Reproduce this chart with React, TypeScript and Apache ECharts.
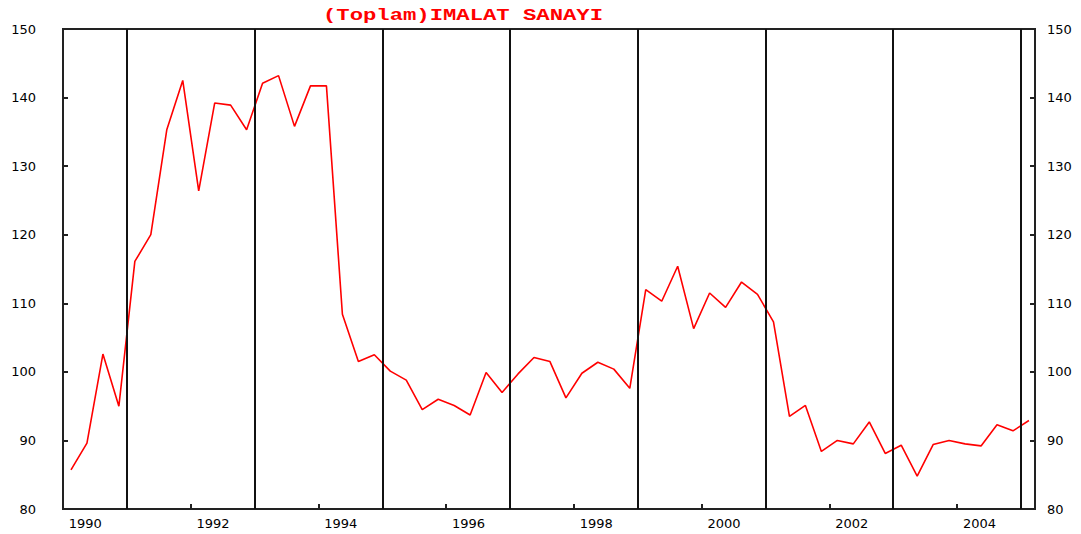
import React, { useEffect, useRef } from "react";
import * as echarts from "echarts";

const chartTitle = "(Toplam)IMALAT SANAYI";

// Quarterly index, 1990 Q1 .. 2005 Q1
const firstYear = 1990;
const quarterValues: number[] = [
  85.7, 89.6, 102.6, 95.0,
  116.1, 120.0, 135.3, 142.5,
  126.4, 139.2, 138.9, 135.3,
  142.1, 143.2, 135.8, 141.7,
  141.7, 108.4, 101.5, 102.5,
  100.1, 98.8, 94.5, 96.0,
  95.1, 93.7, 99.9, 97.0,
  99.7, 102.1, 101.5, 96.2,
  99.8, 101.4, 100.4, 97.6,
  112.0, 110.3, 115.4, 106.3,
  111.5, 109.4, 113.1, 111.3,
  107.3, 93.5, 95.1, 88.4,
  90.0, 89.5, 92.7, 88.1,
  89.3, 84.8, 89.4, 90.0,
  89.5, 89.2, 92.3, 91.4,
  92.9,
];

const tickYears: number[] = [1990, 1992, 1994, 1996, 1998, 2000, 2002, 2004];
const tickLabels: string[] = ["1990", "1992", "1994", "1996", "1998", "2000", "2002", "2004"];
const breakYears: number[] = [1991, 1993, 1995, 1997, 1999, 2001, 2003, 2005];

const yMin = 80;
const yMax = 150;
const yStep = 10;
const xMax = 2005.22;
const labelShift = 0.35;

export default function App() {
  const ref = useRef<HTMLDivElement>(null);

  useEffect(() => {
    if (!ref.current) return;
    const chart = echarts.init(ref.current, undefined, { renderer: "svg" });

    const data = quarterValues.map((v, i) => [firstYear + 0.125 + i * 0.25, v]);
    const labelPos = tickYears.map((y) => y + labelShift);

    const axisColor = "#222";
    const labelFont = {
      color: "#000",
      fontFamily: "DejaVu Sans",
      fontSize: 13,
    };

    const yAxisBase = {
      type: "value" as const,
      min: yMin,
      max: yMax,
      interval: yStep,
      axisLine: { show: true, lineStyle: { color: axisColor, width: 2 } },
      axisTick: { show: true, inside: true, length: 5, lineStyle: { color: axisColor, width: 2 } },
      splitLine: { show: false },
    };

    chart.setOption({
      animation: false,
      backgroundColor: "#fff",
      grid: {
        left: 63,
        right: 46,
        top: 29,
        bottom: 25,
        show: true,
        borderColor: axisColor,
        borderWidth: 2,
        containLabel: false,
      },
      graphic: [
        {
          type: "text",
          x: 463,
          y: 16,
          scaleX: 1.39,
          style: {
            text: chartTitle,
            fill: "#ff0000",
            font: "bold 16px 'Liberation Mono'",
            textAlign: "center",
            textVerticalAlign: "middle",
          },
        },
      ],
      xAxis: {
        type: "value",
        min: firstYear,
        max: xMax,
        axisLine: { show: true, lineStyle: { color: axisColor, width: 2 } },
        axisTick: {
          show: true,
          inside: true,
          length: 5,
          customValues: tickYears,
          lineStyle: { color: axisColor, width: 2 },
        },
        axisLabel: {
          ...labelFont,
          margin: 8,
          customValues: labelPos,
          formatter: (v: number) => {
            const idx = labelPos.findIndex((p) => Math.abs(p - v) < 0.01);
            return idx >= 0 ? tickLabels[idx] : "";
          },
        },
        splitLine: { show: false },
      },
      yAxis: [
        {
          ...yAxisBase,
          position: "left",
          axisLabel: { ...labelFont, margin: 27, padding: [5, 0, 0, 0] },
        },
        {
          ...yAxisBase,
          position: "right",
          axisLabel: { ...labelFont, margin: 12, padding: [5, 0, 0, 0] },
        },
      ],
      series: [
        {
          type: "line",
          data,
          showSymbol: false,
          lineStyle: { color: "#ff0000", width: 1.6 },
          markLine: {
            silent: true,
            symbol: ["none", "none"],
            label: { show: false },
            lineStyle: { color: "#111", width: 2, type: "solid" },
            data: breakYears.map((y) => ({ xAxis: y })),
          },
        },
      ],
    });

    return () => chart.dispose();
  }, []);

  return (
    <div
      ref={ref}
      style={{ position: "absolute", left: 0, top: 0, width: 1081, height: 534 }}
    />
  );
}
